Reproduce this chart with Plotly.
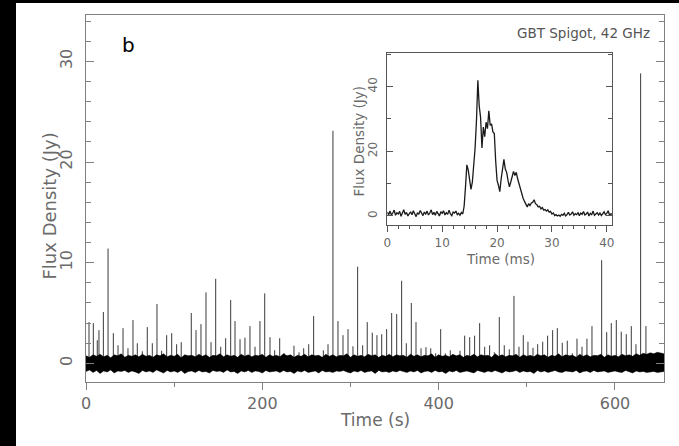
import numpy as np
import plotly.graph_objects as go

# ---- single-pulse train (GBT Spigot, 42 GHz) ----
pulse_times = [3.4, 8.3, 12.8, 14.7, 19.7, 25.0, 31.0, 36.3, 42.0, 47.6,
               53.3, 58.2, 63.9, 69.5, 75.2, 80.5, 85.8, 91.5, 97.2, 102.8,
               108.0, 119.4, 124.8, 130.4, 136.1, 141.8, 147.1, 152.8, 158.4, 164.1,
               169.0, 174.7, 180.3, 186.0, 191.7, 197.3, 202.7, 208.7, 214.0, 219.7,
               224.9, 235.9, 241.6, 246.9, 252.6, 258.2, 269.2, 274.5, 280.1, 285.8,
               291.5, 297.2, 302.8, 308.1, 313.8, 319.0, 324.7, 330.0, 335.4, 341.0,
               346.7, 352.4, 358.0, 363.3, 369.0, 374.3, 380.0, 385.6, 391.0, 396.6,
               402.3, 407.5, 413.2, 424.2, 429.5, 435.2, 440.8, 446.5, 452.2, 457.8,
               463.1, 468.8, 474.4, 480.1, 485.4, 491.1, 496.0, 501.3, 507.0, 512.3,
               518.0, 523.6, 529.3, 534.6, 540.2, 545.9, 551.6, 556.9, 562.6, 568.2,
               573.9, 579.2, 584.9, 590.6, 595.8, 601.5, 607.1, 612.8, 618.5, 623.8,
               629.1, 635.1]
pulse_peaks = [4.1, 4.0, 2.3, 3.3, 5.1, 11.4, 3.0, 1.8, 3.5, 1.5,
               4.3, 2.0, 1.2, 3.6, 2.0, 5.9, 1.25, 2.8, 3.0, 1.9,
               2.1, 5.0, 3.3, 3.9, 7.05, 2.1, 8.4, 1.65, 2.5, 6.3,
               4.2, 2.4, 2.55, 3.7, 1.65, 4.2, 6.95, 2.6, 1.3, 2.5,
               1.0, 1.75, 1.1, 1.5, 1.9, 4.7, 1.3, 1.9, 23.1, 4.2,
               2.8, 3.4, 1.7, 9.6, 1.8, 4.1, 3.05, 2.8, 2.9, 3.4,
               5.0, 4.9, 8.2, 2.0, 6.0, 4.1, 1.5, 1.6, 1.5, 1.0,
               3.4, 1.0, 1.3, 1.25, 2.75, 2.6, 2.75, 4.0, 1.65, 1.8,
               1.1, 4.6, 1.8, 1.4, 6.7, 1.65, 2.8, 2.15, 1.55, 1.9,
               2.15, 2.75, 3.3, 3.5, 2.05, 2.25, 1.0, 2.45, 1.65, 2.45,
               3.7, 0.8, 10.25, 3.1, 4.0, 4.3, 3.15, 2.9, 3.7, 1.9,
               28.8, 3.7]

# baseline noise envelope (Jy), sampled every 4 s
band_t = list(range(0, 657, 4))
band_upper = [
    .75, .60, .85, .70, .90, .65, .80, .55, .85, .75, .95, .60, .80, .70, .85,
    .65, .90, .70, .80, .60, .85, .75, .95, .65, .80, .70, .90, .55, .85, .75,
    .80, .65, .90, .70, .85, .60, .80, .75, .95, .65, .85, .70, .80, .60, .90,
    .70, .85, .65, .80, .75, .90, .60, .85, .70, .80, .65, .95, .75, .85, .60,
    .80, .70, .90, .65, .85, .75, .80, .60, .90, .70, .85, .65, .80, .75, .95,
    .60, .85, .70, .80, .65, .90, .75, .85, .60, .80, .70, .90, .65, .85, .75,
    .80, .60, .90, .70, .85, .65, .80, .75, .95, .60, .85, .70, .80, .65, .90,
    .75, .85, .60, .80, .70, .90, .65, .85, .75, .80, .60, .95, .70, .85, .65,
    .80, .75, .90, .60, .85, .70, .80, .65, .90, .75, .85, .60, .80, .70, .95,
    .65, .85, .75, .80, .60, .90, .70, .85, .65, .80, .75, .90, .60, .85, .70,
    .80, .65, .90, .75, .85, .70, .95, .80, 1.0, .90, 1.05, .95, 1.10, 1.0, .95]
band_lower = [
    -.80, -.65, -.90, -.70, -1.0, -.75, -.85, -.65, -.95, -.75, -.80, -.70, -.90, -.75, -.85,
    -1.0, -.70, -.85, -.75, -.90, -.65, -.80, -.95, -.70, -.85, -.75, -.90, -.70, -1.0, -.80,
    -.75, -.90, -.70, -.85, -.80, -.95, -.70, -.80, -.75, -.90, -.65, -.85, -.80, -1.0, -.75,
    -.85, -.70, -.90, -.75, -.80, -.95, -.70, -.85, -.80, -.75, -.90, -.70, -.85, -.80, -1.0,
    -.75, -.85, -.70, -.90, -.80, -.75, -.95, -.70, -.85, -.80, -.90, -.75, -.80, -.70, -.85,
    -.95, -.75, -.85, -.70, -.90, -.80, -.75, -1.0, -.70, -.85, -.80, -.90, -.75, -.85, -.70,
    -.80, -.90, -.75, -.85, -.70, -.95, -.80, -.75, -.90, -.70, -.85, -.80, -1.0, -.75, -.85,
    -.70, -.90, -.80, -.75, -.85, -.95, -.70, -.80, -.90, -.75, -.85, -.70, -.80, -.95, -.75,
    -.85, -.80, -.70, -.90, -.75, -.85, -.80, -1.0, -.70, -.85, -.75, -.90, -.80, -.70, -.85,
    -.90, -.75, -.80, -.85, -.70, -.95, -.80, -.75, -.90, -.70, -.85, -.80, -.75, -.90, -.80,
    -.75, -.85, -.90, -.70, -.80, -.95, -.75, -.85, -.80, -.90, -.85, -.80, -.90, -.85, -.80]

# ---- brightest pulse, 0.25 ms resolution ----
profile_dt = 0.25
profile_flux = [
    1.2, 0.4, 1.5, 0.3, 0.9, 1.8, 0.2, 1.0, 0.6, 1.4,
    -0.1, 0.8, 1.9, 0.5, 1.1, 0.0, 0.9, 1.3, 0.4, 1.6,
    0.7, -0.2, 1.0, 0.5, 1.7, 0.8, 0.1, 1.2, 0.6, 1.5,
    0.3, 0.9, 1.9, 0.4, 1.1, 0.2, 1.4, 0.7, 0.0, 1.3,
    0.8, 1.6, 0.3, 1.0, 0.5, 1.8, 0.6, 0.1, 1.2, 0.9,
    1.5, 0.4, 0.8, 0.2, 1.1, 0.6,
    3.0, 9.0, 15.8, 14.2, 11.5, 8.2, 10.5, 15.0, 21.0, 29.5,
    42.0, 34.0, 30.5, 21.0, 27.5, 24.5, 29.0, 27.0, 32.5, 28.0,
    28.5, 26.0, 25.5, 17.0, 11.0, 9.5, 7.5, 11.5, 14.0, 17.5,
    14.5, 13.5, 11.0, 9.0, 10.5, 12.5, 13.8, 12.5, 13.5, 11.5,
    10.0, 8.0, 7.0, 5.5, 4.5, 3.5, 2.8, 3.8, 3.2, 4.0,
    4.2, 5.0, 3.8, 3.5, 2.8, 3.0, 2.2, 2.6, 1.8, 2.0,
    1.5, 1.9, 1.2, 1.4, 0.6, 0.9, 0.1, 0.4, 0.0,
    0.3, -0.1, 0.5, 0.2, 0.8, 0.0, 0.4, 1.1, 0.3, 0.6,
    1.3, 0.2, 0.7, 0.4, 1.0, 0.1, 0.9, 0.5, 1.4, 0.3,
    0.6, 1.2, 0.0, 0.8, 0.4, 1.5, 0.2, 0.7, 1.0, 0.3,
    0.9, 0.1, 0.6, 1.3, 0.4, 0.8, 1.6, 0.2, 0.7, 0.5]
profile_time = np.arange(len(profile_flux)) * profile_dt

FONT = "DejaVu Sans"
GREY = "#6a6a6a"

fig = go.Figure()

# each pulse as a vertical stroke from the baseline
sx, sy = [], []
for t, p in zip(pulse_times, pulse_peaks):
    sx += [t, t, None]
    sy += [0, p, None]
fig.add_trace(go.Scatter(x=sx, y=sy, mode="lines",
                         line=dict(color="#3a3a3a", width=1),
                         hoverinfo="skip", showlegend=False))

# noise band
fig.add_trace(go.Scatter(x=band_t, y=band_lower, mode="lines",
                         line=dict(color="black", width=0.5),
                         hoverinfo="skip", showlegend=False))
fig.add_trace(go.Scatter(x=band_t, y=band_upper, mode="lines",
                         line=dict(color="black", width=0.5),
                         fill="tonexty", fillcolor="black",
                         hoverinfo="skip", showlegend=False))

# inset profile
fig.add_trace(go.Scatter(x=profile_time, y=profile_flux, mode="lines",
                         line=dict(color="#1a1a1a", width=1.3),
                         xaxis="x2", yaxis="y2",
                         hoverinfo="skip", showlegend=False))

W, H = 679, 446
L, R, T, B = 86, 15, 15, 64
pw, ph = W - L - R, H - T - B


def px(x):
    return (x - L) / pw


def py(y):
    return (H - B - y) / ph


axis_common = dict(showgrid=False, zeroline=False, showline=True,
                   tickfont=dict(family=FONT, size=16, color=GREY))

fig.update_layout(
    width=W, height=H,
    margin=dict(l=L, r=R, t=T, b=B, pad=0),
    paper_bgcolor="white", plot_bgcolor="white",
    xaxis=dict(**axis_common, range=[0, 655.6], domain=[0, 1],
               linecolor="#808080", linewidth=1.3, mirror=True,
               ticks="outside", ticklen=7, tickwidth=1.2, tickcolor="#808080",
               tick0=0, dtick=200,
               minor=dict(ticks="outside", ticklen=4, dtick=100,
                          tickcolor="#808080", tickwidth=1.2)),
    yaxis=dict(**axis_common, range=[-1.85, 34.6], domain=[0, 1],
               linecolor="#808080", linewidth=1.3, mirror="ticks",
               ticks="inside", ticklen=8, tickwidth=1.2, tickcolor="#808080",
               tick0=0, dtick=10, tickangle=-90, ticklabelstandoff=6,
               minor=dict(ticks="inside", ticklen=5, dtick=2,
                          tickcolor="#808080", tickwidth=1.2)),
    xaxis2=dict(showgrid=False, zeroline=False, showline=True,
                tickfont=dict(family=FONT, size=12, color=GREY),
                anchor="y2", range=[0, 41],
                domain=[px(387.3), px(612.3)],
                linecolor="#555555", linewidth=1.2, mirror=True,
                ticks="outside", ticklen=6, tickwidth=1, tickcolor="#555555",
                tick0=0, dtick=10,
                minor=dict(ticks="outside", ticklen=3, dtick=2,
                           tickcolor="#555555", tickwidth=1)),
    yaxis2=dict(showgrid=False, zeroline=False, showline=True,
                tickfont=dict(family=FONT, size=12, color=GREY),
                anchor="x2", range=[-2.8, 50.5],
                domain=[py(225), py(52.7)],
                linecolor="#555555", linewidth=1.2, mirror="ticks",
                ticks="inside", ticklen=6, tickwidth=1, tickcolor="#555555",
                tick0=0, dtick=20, tickangle=-90, ticklabelstandoff=4,
                minor=dict(ticks="inside", ticklen=4, dtick=10,
                           tickcolor="#555555", tickwidth=1)),
)

annotations = [
    dict(text="Flux Density (Jy)", x=px(48.5), y=py(206), textangle=-90,
         font=dict(family=FONT, size=18, color=GREY)),
    dict(text="Time (s)", x=px(375), y=py(420),
         font=dict(family=FONT, size=17, color=GREY)),
    dict(text="b", x=px(128), y=py(45),
         font=dict(family=FONT, size=20, color="black")),
    dict(text="GBT Spigot, 42 GHz", x=px(583), y=py(32.7),
         font=dict(family=FONT, size=13.5, color="#555555")),
    dict(text="Flux Density (Jy)", x=px(358), y=py(141.5), textangle=-90,
         font=dict(family=FONT, size=13.5, color=GREY)),
    dict(text="Time (ms)", x=px(500.3), y=py(259.3),
         font=dict(family=FONT, size=13.5, color=GREY)),
]
for a in annotations:
    a.update(xref="paper", yref="paper", showarrow=False,
             xanchor="center", yanchor="middle")
fig.update_layout(annotations=annotations)

# dark frame strips along the left and top edges of the page
fig.update_layout(shapes=[
    dict(type="rect", xref="paper", yref="paper",
         x0=px(0), x1=px(16), y0=py(H), y1=py(0),
         fillcolor="black", line=dict(width=0), layer="above"),
    dict(type="rect", xref="paper", yref="paper",
         x0=px(0), x1=px(W), y0=py(3), y1=py(0),
         fillcolor="black", line=dict(width=0), layer="above"),
])

fig.write_html("out.html")
